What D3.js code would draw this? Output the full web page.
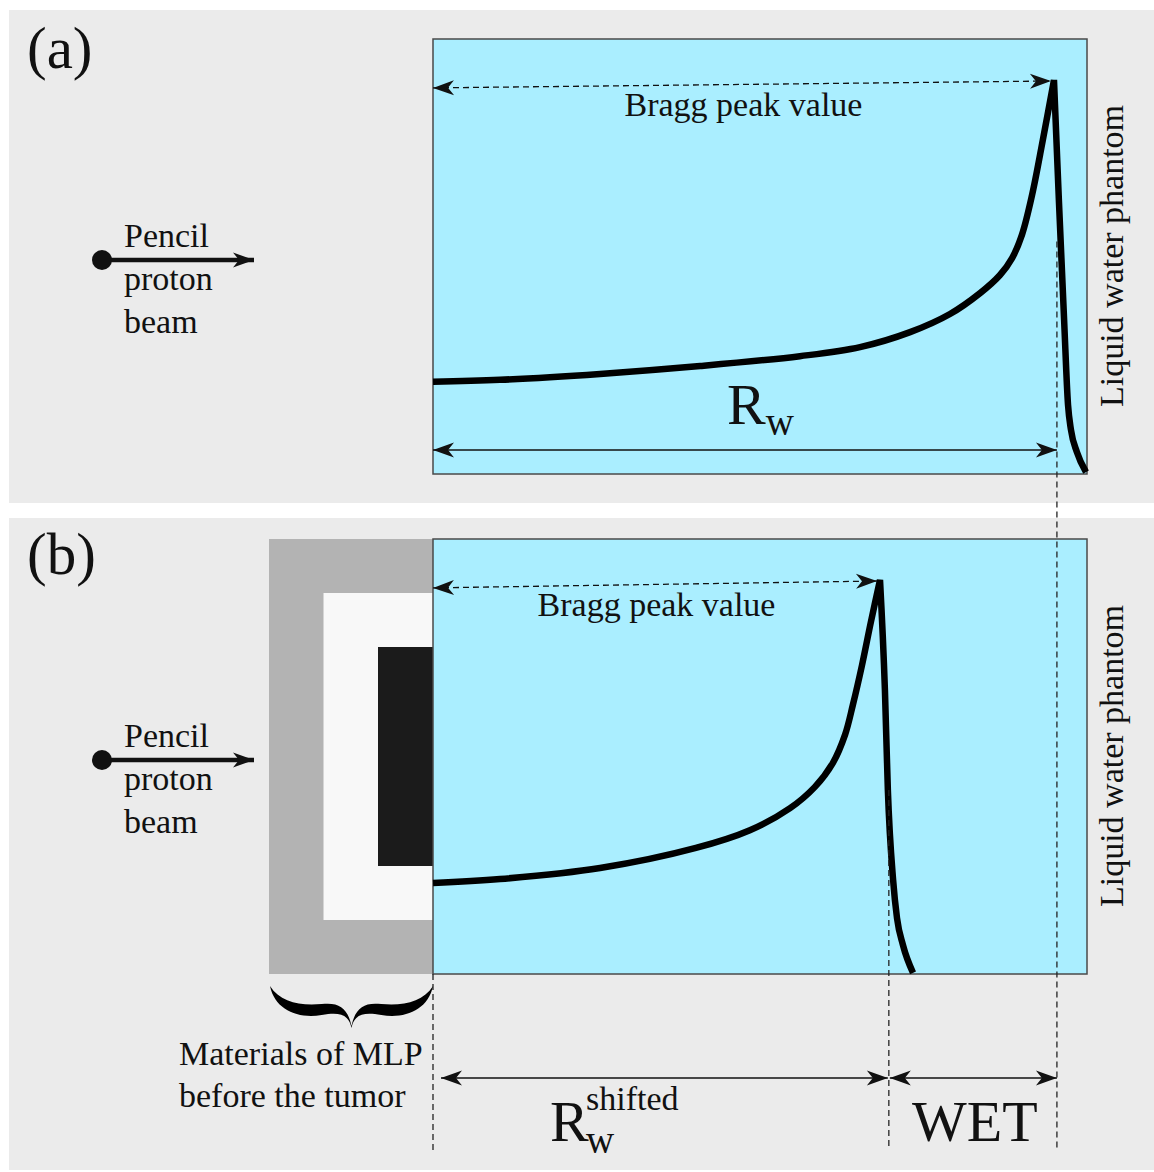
<!DOCTYPE html>
<html>
<head>
<meta charset="utf-8">
<script src="https://cdn.jsdelivr.net/npm/d3@7/dist/d3.min.js"></script>
<style>
    body { margin: 0; background: #fff; }
    text { font-family: "Liberation Serif", "Times New Roman", serif; fill: #111; }
</style>
</head>
<body>
<script>
// depth in water (cm) and dose relative to the Bragg peak
const riseDepthA = [0, 2.05, 5.11, 8.17, 11.22, 13.06, 14.59, 15.81, 16.73, 17.34, 17.71, 18.01, 18.32, 18.65, 18.99]
const riseDoseA = [0.234, 0.239, 0.254, 0.274, 0.299, 0.322, 0.36, 0.406, 0.459, 0.505, 0.548, 0.607, 0.708, 0.848, 1.0]
const fallDepthA = [18.99, 19.14, 19.3, 19.42, 19.51, 19.69, 19.97]
const fallDoseA = [1.0, 0.695, 0.391, 0.175, 0.112, 0.056, 0.005]

const riseDepthB = [0, 2.05, 5.11, 8.04, 9.69, 10.92, 11.68, 12.23, 12.6, 12.84, 13.12, 13.39, 13.67]
const riseDoseB = [0.231, 0.241, 0.269, 0.32, 0.365, 0.421, 0.475, 0.536, 0.607, 0.683, 0.784, 0.893, 1.0]
const fallDepthB = [13.67, 13.82, 13.91, 14.07, 14.19, 14.37, 14.68]
const fallDoseB = [1.0, 0.721, 0.467, 0.239, 0.142, 0.074, 0.003]

const rangeWater = 19.08     // R_w
const rangeShifted = 13.94   // R_w shifted
const phantomDepth = [0, 20]
const panelLabels = ["(a)", "(b)"]
const beamText = ["Pencil", "proton", "beam"]
const mlpText = ["Materials of MLP", "before the tumor"]
const mlpColors = ["#b3b3b3", "#f8f8f8", "#1b1b1b"]

const width = 1154
const height = 1172

const svg = d3.select("body")
    .append("svg")
    .attr("width", width)
    .attr("height", height)

const defs = svg.append("defs")
defs.append("marker")
    .attr("id", "head")
    .attr("viewBox", "-22 -9 24 18")
    .attr("markerUnits", "userSpaceOnUse")
    .attr("markerWidth", 24)
    .attr("markerHeight", 18)
    .attr("refX", 0)
    .attr("refY", 0)
    .attr("orient", "auto-start-reverse")
    .append("path")
    .attr("d", "M0,0 L-21,-7.5 L-15,0 L-21,7.5 Z")
    .attr("fill", "#111")

const x = d3.scaleLinear().domain(phantomDepth).range([433, 1087])

const panels = [
    { top: 10, h: 493, off: 0, rise: [riseDepthA, riseDoseA], fall: [fallDepthA, fallDoseA] },
    { top: 518, h: 652, off: 500, rise: [riseDepthB, riseDoseB], fall: [fallDepthB, fallDoseB] },
]
const ys = []

panels.forEach((p, t) => {
    const y = d3.scaleLinear().domain([0, 1]).range([474 + p.off, 80 + p.off])
    ys.push(y)
    const g = svg.append("g")

    g.append("rect")
        .attr("x", 9).attr("y", p.top)
        .attr("width", width - 9).attr("height", p.h)
        .attr("fill", "#ebebeb")

    g.append("text")
        .attr("x", 27).attr("y", 68 + p.off + t * 6)
        .attr("font-size", 59)
        .text(panelLabels[t])

    // beam
    g.append("line")
        .attr("x1", 102).attr("x2", 254)
        .attr("y1", 260 + p.off).attr("y2", 260 + p.off)
        .attr("stroke", "#111").attr("stroke-width", 4.5)
        .attr("marker-end", "url(#head)")
    g.append("circle")
        .attr("cx", 102).attr("cy", 260 + p.off).attr("r", 10)
        .attr("fill", "#111")
    g.selectAll("text.beam")
        .data(beamText)
        .join("text")
        .attr("class", "beam")
        .attr("x", 124)
        .attr("y", (_, i) => 247 + p.off + i * 43)
        .attr("font-size", 34)
        .text((d) => d)

    // MLP layers in front of the phantom (panel b)
    if (t === 1) {
        g.selectAll("rect.mlp")
            .data(mlpColors)
            .join("rect")
            .attr("class", "mlp")
            .attr("x", (_, i) => 269 + i * 54.5)
            .attr("y", (_, i) => y.range()[1] - 41 + i * 54)
            .attr("width", (_, i) => x(0) - 269 - i * 54.5)
            .attr("height", (_, i) => 435 - i * 108)
            .attr("fill", (d) => d)
    }

    // water phantom
    g.append("rect")
        .attr("x", x(0)).attr("y", 39 + p.off)
        .attr("width", x(20) - x(0)).attr("height", 435)
        .attr("fill", "#aaeeff")
        .attr("stroke", "#4a4a4a").attr("stroke-width", 1.5)

    // Bragg curve
    const riseLine = d3.line()
        .x((d) => x(d[0]))
        .y((d) => y(d[1]))
        .curve(d3.curveCatmullRom.alpha(0.5))
    const fallLine = d3.line()
        .x((d) => x(d[0]))
        .y((d) => y(d[1]))
        .curve(d3.curveMonotoneX)
    const rise = d3.zip(p.rise[0], p.rise[1])
    const fall = d3.zip(p.fall[0], p.fall[1])
    const peak = rise[rise.length - 1]
    g.append("path")
        .attr("d", riseLine(rise) + fallLine(fall).replace("M", "L"))
        .attr("fill", "none")
        .attr("stroke", "#000")
        .attr("stroke-width", 6.5)
        .attr("stroke-linejoin", "miter")
        .attr("stroke-miterlimit", 4)

    // Bragg peak value arrow
    g.append("line")
        .attr("x1", x(0)).attr("y1", y(0.98))
        .attr("x2", x(peak[0]) - 3).attr("y2", y(peak[1]) + 1)
        .attr("stroke", "#111").attr("stroke-width", 1.3)
        .attr("stroke-dasharray", "6,4")
        .attr("marker-start", "url(#head)")
        .attr("marker-end", "url(#head)")
    g.append("text")
        .attr("x", (x(0) + x(peak[0])) / 2)
        .attr("y", y(1) + 36)
        .attr("text-anchor", "middle")
        .attr("font-size", 34)
        .attr("fill", "#222")
        .text("Bragg peak value")

    g.append("text")
        .attr("transform", `translate(1123,${256 + p.off}) rotate(-90)`)
        .attr("text-anchor", "middle")
        .attr("font-size", 34)
        .attr("fill", "#222")
        .text("Liquid water phantom")

    if (t === 0) {
        g.append("line")
            .attr("x1", x(0)).attr("x2", x(rangeWater))
            .attr("y1", y(0.061)).attr("y2", y(0.061))
            .attr("stroke", "#111").attr("stroke-width", 1.5)
            .attr("marker-start", "url(#head)")
            .attr("marker-end", "url(#head)")
        const rw = g.append("text")
            .attr("x", 727).attr("y", 424)
            .attr("font-size", 58)
        rw.append("tspan").text("R")
        rw.append("tspan").attr("font-size", 39).attr("dy", 11).text("w")
    }
})

// dashed guides
const guides = [
    { d: 0, y0: 974 },
    { d: rangeShifted, y0: ys[1](0.467) },
    { d: rangeWater, y0: ys[0](0.59) },
]
svg.selectAll("line.guide")
    .data(guides)
    .join("line")
    .attr("class", "guide")
    .attr("x1", (d) => x(d.d)).attr("x2", (d) => x(d.d))
    .attr("y1", (d) => d.y0).attr("y2", 1150)
    .attr("stroke", "#222").attr("stroke-width", 1.3)
    .attr("stroke-dasharray", "6,4")

// range arrows below panel b
const arrowY = 1078
svg.append("line")
    .attr("x1", x(0) + 8).attr("x2", x(rangeShifted) - 1)
    .attr("y1", arrowY).attr("y2", arrowY)
    .attr("stroke", "#111").attr("stroke-width", 1.5)
    .attr("marker-start", "url(#head)")
    .attr("marker-end", "url(#head)")
svg.append("line")
    .attr("x1", x(rangeShifted) + 1).attr("x2", x(rangeWater))
    .attr("y1", arrowY).attr("y2", arrowY)
    .attr("stroke", "#111").attr("stroke-width", 1.5)
    .attr("marker-start", "url(#head)")
    .attr("marker-end", "url(#head)")

const rs = svg.append("text").attr("x", 550).attr("y", 1141).attr("font-size", 58)
rs.append("tspan").text("R")
rs.append("tspan").attr("x", 586).attr("dy", 12).attr("font-size", 39).text("w")
rs.append("tspan").attr("x", 586).attr("y", 1110).attr("font-size", 34).text("shifted")

svg.append("text")
    .attr("x", (x(rangeShifted) + x(rangeWater)) / 2 + 2)
    .attr("y", 1141)
    .attr("text-anchor", "middle")
    .attr("font-size", 58)
    .text("WET")

// brace under the MLP materials
function brace(x0, x1, y0, h) {
    const sx = (x1 - x0) / 164
    const sy = h / 42
    const P = (a, b) => `${x0 + a * sx},${y0 + b * sy}`
    return `M${P(0, 0)}` +
        `C${P(5, 24)} ${P(28, 33)} ${P(52, 29)}` +
        `C${P(70, 26)} ${P(79, 28)} ${P(82, 42)}` +
        `C${P(85, 28)} ${P(94, 26)} ${P(112, 29)}` +
        `C${P(136, 33)} ${P(159, 24)} ${P(164, 0)}` +
        `C${P(154, 16)} ${P(134, 20)} ${P(112, 18)}` +
        `C${P(94, 16)} ${P(86, 22)} ${P(82, 40)}` +
        `C${P(78, 22)} ${P(70, 16)} ${P(52, 18)}` +
        `C${P(30, 20)} ${P(10, 16)} ${P(0, 0)}Z`
}
svg.append("path")
    .attr("d", brace(270, x(0), 986, 42))
    .attr("fill", "#000")

svg.selectAll("text.mlp")
    .data(mlpText)
    .join("text")
    .attr("class", "mlp")
    .attr("x", 179)
    .attr("y", (_, i) => 1065 + i * 42)
    .attr("font-size", 34)
    .attr("fill", "#222")
    .text((d) => d)
</script>
</body>
</html>
